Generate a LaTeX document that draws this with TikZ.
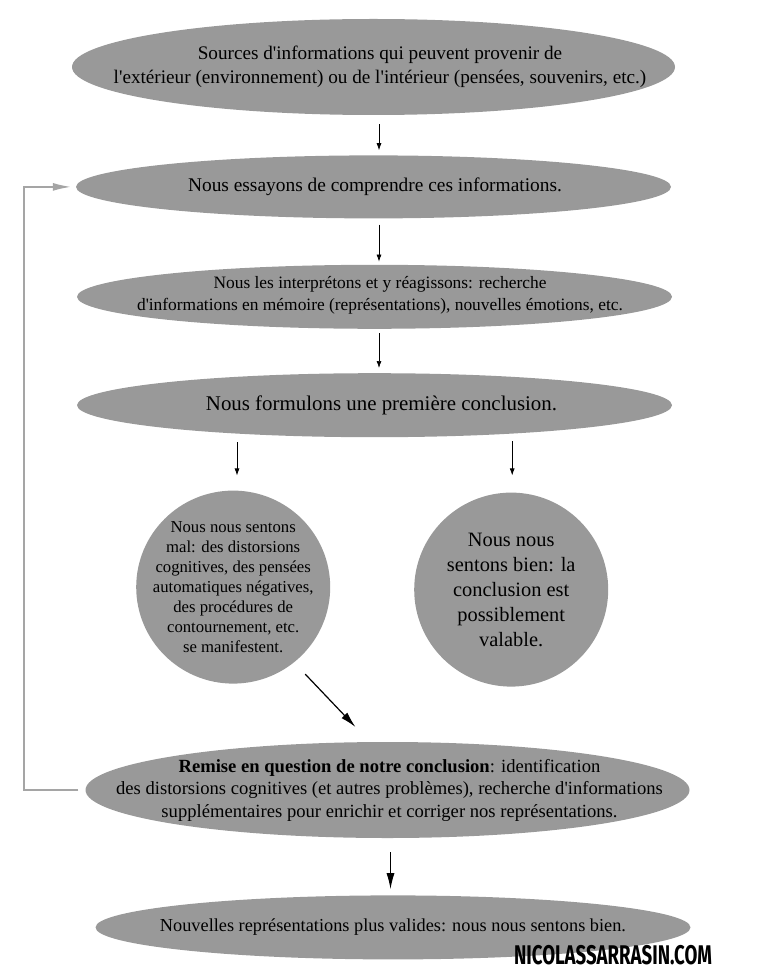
\documentclass[tikz,border=0pt]{standalone}
\usepackage{fontspec}
\setmainfont{Liberation Serif}[Ligatures=TeXOff]
\newfontfamily\markfont{Fira Sans}
\usetikzlibrary{arrows.meta,positioning,shapes.geometric}
\definecolor{blobgray}{RGB}{153,153,153}
\definecolor{backgray}{RGB}{165,165,165}
\tikzset{
  blob/.style={ellipse,fill=blobgray,inner xsep=-100pt,inner ysep=-4pt,align=center},
  flow/.style={-{Latex[length=7pt,width=5pt]},line width=.7pt},
  flowbig/.style={-{Latex[length=16pt,width=8pt]},line width=1.2pt},
}
\newcommand{\textsz}[2]{\fontsize{#1}{#2}\selectfont}
\newcommand{\nudge}[1]{\hspace*{#1}}
\begin{document}
\begin{tikzpicture}[x=1pt,y=-1pt,>=Latex,node distance=40pt]
  \useasboundingbox (0,0) rectangle (758,973);
  \node[blob,minimum width=603pt,minimum height=96pt,font=\textsz{19.2}{24}] (src) at (373.5,67) {\nudge{13pt}Sources d'informations qui peuvent provenir de\\\nudge{13pt}l'ext\'erieur (environnement) ou de l'int\'erieur (pens\'ees, souvenirs, etc.)\rule[-4pt]{0pt}{0pt}};
  \node[blob,minimum width=595pt,minimum height=63pt,font=\textsz{19.4}{24},below=of src] (comp) {\nudge{3pt}Nous essayons de comprendre ces informations.};
  \node[blob,minimum width=595pt,minimum height=64pt,font=\textsz{17.4}{21.5},below=46pt of comp,xshift=1pt] (interp) {\nudge{11pt}Nous les interpr\'etons et y r\'eagissons: recherche\\\nudge{11pt}d'informations en m\'emoire (repr\'esentations), nouvelles \'emotions, etc.\rule[-7pt]{0pt}{0pt}};
  \node[blob,minimum width=595pt,minimum height=64pt,font=\textsz{20.9}{24},below=44pt of interp] (concl) {\nudge{14pt}Nous formulons une premi\`ere conclusion.\rule[-5pt]{0pt}{0pt}};
  \node[blob,minimum width=194pt,minimum height=193pt,font=\textsz{16.7}{20},below=53pt of concl,xshift=-141.3pt] (mal) {Nous nous sentons\\mal: des distorsions\\cognitives, des pens\'ees\\automatiques n\'egatives,\\des proc\'edures de\\contournement, etc.\\se manifestent.};
  \node[blob,minimum width=194pt,minimum height=194pt,font=\textsz{20.4}{25},right=83.6pt of mal,yshift=-2.5pt] (bien) {Nous nous\\sentons bien: la\\conclusion est\\possiblement\\valable.};
  \node[blob,minimum width=604pt,minimum height=96pt,font=\textsz{18.6}{22.5},below=58pt of mal,xshift=154.3pt] (remise) {\nudge{4pt}\textbf{Remise en question de notre conclusion}: identification\\\nudge{4pt}des distorsions cognitives (et autres probl\`emes), recherche d'informations\\\nudge{4pt}suppl\'ementaires pour enrichir et corriger nos repr\'esentations.};
  \node[blob,minimum width=595pt,minimum height=64pt,font=\textsz{18.3}{22},below=57pt of remise,xshift=5.5pt] (valide) {Nouvelles repr\'esentations plus valides: nous nous sentons bien.};
  \node[font=\markfont\bfseries\textsz{27}{27},inner sep=0pt,xscale=.69] (sign) at (613,955) {NICOLASSARRASIN.COM};
  \draw[flow,shorten <=9pt,shorten >=5pt] ([xshift=5.5pt]src.south) -- ([xshift=5.5pt]comp.north);
  \draw[flow,shorten <=6pt,shorten >=3pt] ([xshift=5.5pt]comp.south) -- ([xshift=4.5pt]interp.north);
  \draw[flow,shorten <=4pt,shorten >=5pt] ([xshift=4.5pt]interp.south) -- ([xshift=4.5pt]concl.north);
  \draw[flow,shorten <=5pt,shorten >=15pt] ([xshift=3.8pt]mal.north |- concl.south) -- ([xshift=3.8pt]mal.north);
  \draw[flow,shorten <=4pt,shorten >=17pt] ([xshift=1pt]bien.north |- concl.south) -- ([xshift=1pt]bien.north);
  \draw[flowbig] ([shift={(72,87)}]mal.center) -- ([shift={(-32,-63)}]remise.center);
  \draw[flowbig,shorten <=14pt,shorten >=6pt] ([xshift=3pt]remise.south) -- ([xshift=-2.5pt]valide.north);
  \draw[-{Latex[length=18pt,width=8pt]},backgray,line width=1.4pt,shorten <=7pt,shorten >=5pt] (remise.west) -| ([xshift=-52pt]comp.west) -- (comp.west);
\end{tikzpicture}
\end{document}
